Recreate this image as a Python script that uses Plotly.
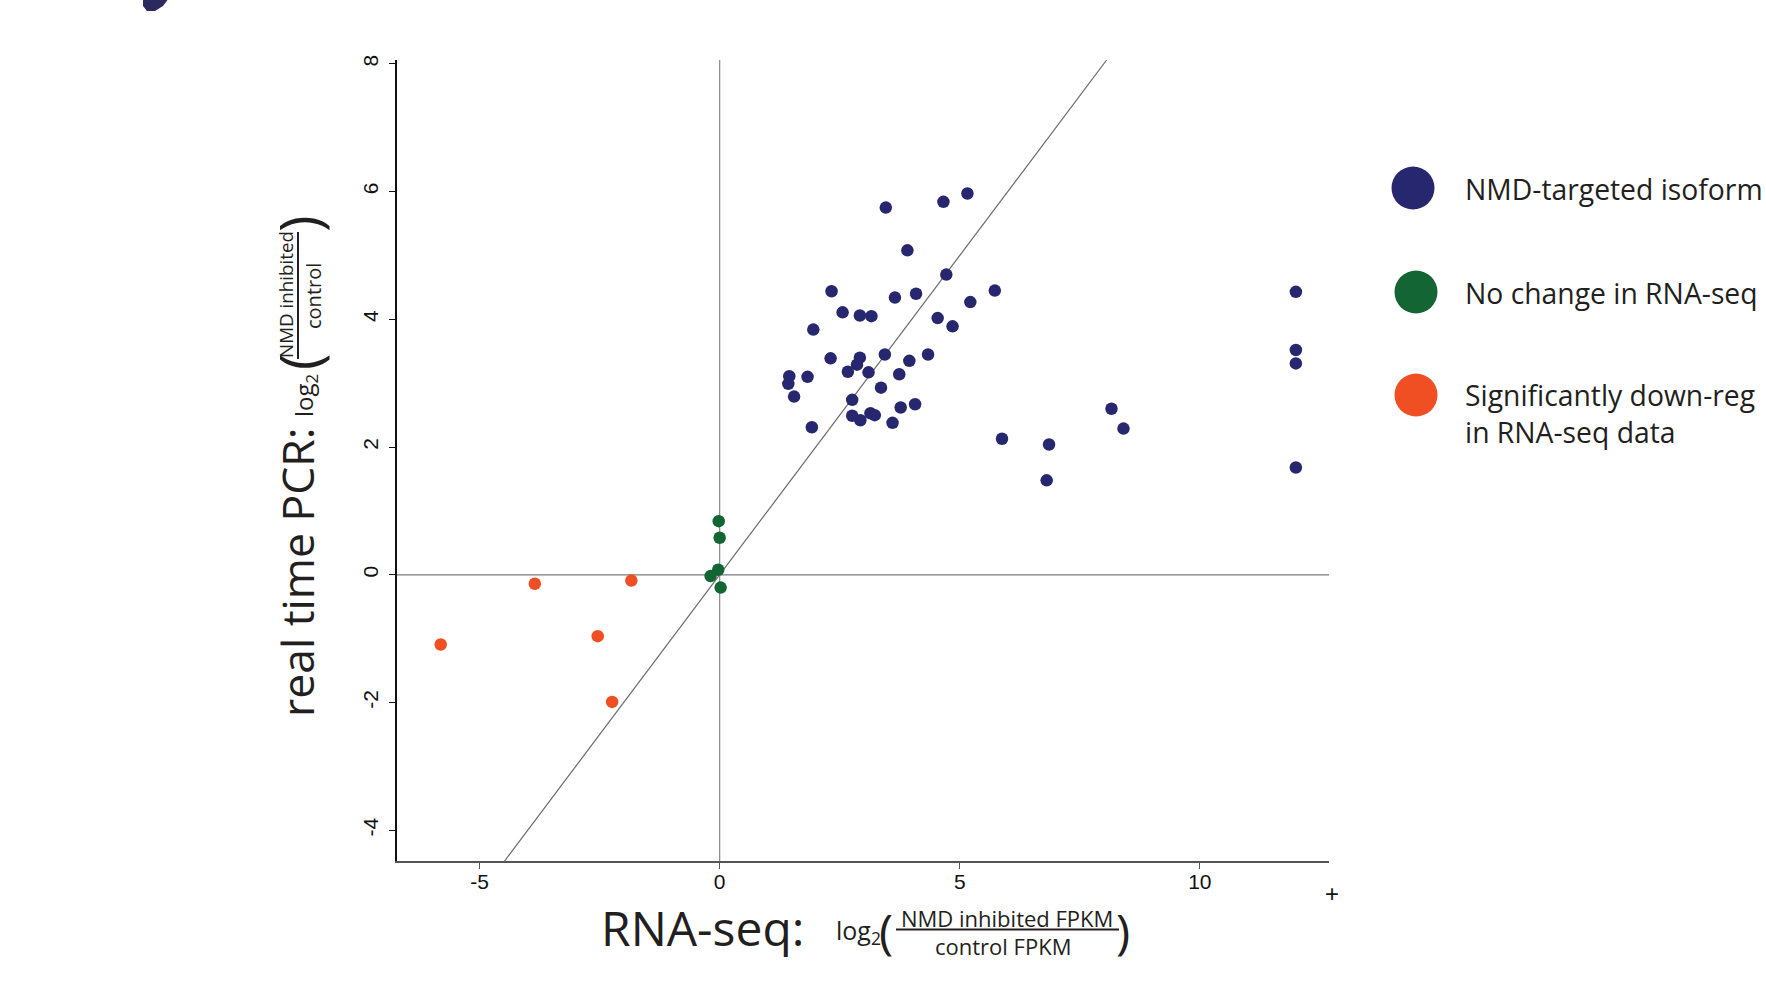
import plotly.graph_objects as go

# ---------------- data ----------------
nmd_x = [3.46, 4.66, 5.16, 3.91, 4.72, 2.33, 3.65, 4.09, 5.73, 5.22, 2.56, 2.92,
         3.16, 4.54, 4.85, 1.95, 2.31, 2.92, 3.44, 4.34, 3.95, 2.86, 2.67, 3.10,
         3.74, 1.45, 1.43, 1.83, 3.36, 1.55, 2.76, 3.77, 4.07, 2.76, 2.93, 3.14,
         3.23, 3.60, 1.92, 5.88, 6.86, 6.81, 8.16, 8.41, 12.0, 12.0, 12.0, 12.0]
nmd_y = [5.75, 5.84, 5.97, 5.08, 4.70, 4.44, 4.34, 4.40, 4.45, 4.27, 4.11, 4.06,
         4.05, 4.02, 3.89, 3.84, 3.39, 3.40, 3.45, 3.45, 3.35, 3.29, 3.18, 3.17,
         3.14, 3.11, 2.99, 3.10, 2.93, 2.79, 2.74, 2.62, 2.67, 2.49, 2.42, 2.53,
         2.50, 2.38, 2.31, 2.13, 2.04, 1.48, 2.60, 2.29, 4.43, 3.52, 3.31, 1.68]

nochange_x = [-0.02, 0.00, -0.03, -0.19, 0.02]
nochange_y = [0.84, 0.58, 0.08, -0.02, -0.20]

down_x = [-5.81, -3.85, -1.84, -2.54, -2.24]
down_y = [-1.09, -0.14, -0.09, -0.96, -1.99]

x_ticks = [-5, 0, 5, 10]
y_ticks = [-4, -2, 0, 2, 4, 6, 8]
x_range = [-6.72, 12.69]
y_range = [-4.48, 8.06]

legend_labels = ["NMD-targeted isoform", "No change in RNA-seq",
                 "Significantly down-reg<br>in RNA-seq data"]

NAVY = "#27276f"
GREEN = "#136534"
ORANGE = "#f04e23"
TXT = "#231f20"

# ---------------- layout geometry ----------------
W, H = 1766, 1001
L, R, T, B = 397, 1329, 60, 861


def P(px, py):
    return (px - L) / (R - L), (B - py) / (B - T)


fig = go.Figure()
for xs, ys, col, name in [(nmd_x, nmd_y, NAVY, legend_labels[0]),
                          (nochange_x, nochange_y, GREEN, legend_labels[1]),
                          (down_x, down_y, ORANGE, legend_labels[2])]:
    fig.add_trace(go.Scatter(x=xs, y=ys, mode="markers", name=name,
                             marker=dict(color=col, size=12.5, line=dict(width=0)),
                             showlegend=False, hoverinfo="x+y"))

shapes = [
    dict(type="line", xref="x", yref="paper", x0=0, x1=0, y0=0, y1=1,
         line=dict(color="#8a8a8a", width=1.2), layer="below"),
    dict(type="line", xref="paper", yref="y", x0=0, x1=1, y0=0, y1=0,
         line=dict(color="#7a7a7a", width=1.2), layer="below"),
    dict(type="line", xref="x", yref="y", x0=y_range[0], y0=y_range[0],
         x1=y_range[1], y1=y_range[1],
         line=dict(color="#6a6a6a", width=1.2), layer="below"),
]

# fraction bars
xb0, yb = P(896, 929.5)
xb1, _ = P(1119, 929.5)
shapes.append(dict(type="line", xref="paper", yref="paper", x0=xb0, x1=xb1,
                   y0=yb, y1=yb, line=dict(color=TXT, width=2)))
xv, yv0 = P(298, 232)
_, yv1 = P(298, 359)
shapes.append(dict(type="line", xref="paper", yref="paper", x0=xv, x1=xv,
                   y0=yv0, y1=yv1, line=dict(color=TXT, width=2)))

# legend circles
for (cx, cy), col in zip([(1413, 188), (1416, 292), (1416, 395)], [NAVY, GREEN, ORANGE]):
    px_, py_ = P(cx, cy)
    shapes.append(dict(type="circle", xref="paper", yref="paper",
                       xsizemode="pixel", ysizemode="pixel",
                       xanchor=px_, yanchor=py_, x0=-21.5, x1=21.5, y0=-21.5, y1=21.5,
                       fillcolor=col, line=dict(width=0)))

# cropped dark blob at the top-left corner
pts = [P(143, -2), P(143, 6), P(147, 11), P(155, 11), P(163, 6), P(169, -2)]
path = "M " + " L ".join(f"{a:.5f},{b:.5f}" for a, b in pts) + " Z"
shapes.append(dict(type="path", xref="paper", yref="paper", path=path,
                   fillcolor="#2a2a5e", line=dict(width=0)))

ann = []


def A(text, px, py, size, angle=0, xanchor="center", yanchor="middle",
      family="Open Sans", color=TXT, align="center"):
    x, y = P(px, py)
    ann.append(dict(text=text, x=x, y=y, xref="paper", yref="paper",
                    showarrow=False, textangle=angle, xanchor=xanchor,
                    yanchor=yanchor, align=align,
                    font=dict(family=family, size=size, color=color)))


# x title
A("RNA-seq:", 702, 927, 48)
A("log<sub>2</sub>", 858, 931, 25)
A("(", 886, 930, 48)
A("NMD inhibited FPKM", 1007, 918, 22)
A("control FPKM", 1003, 946, 22)
A(")", 1123, 930, 48)

# y title (rotated)
A("real time PCR:", 296, 572, 44.5, angle=-90)
A("log<sub>2</sub>", 305, 396, 24, angle=-90)
A("(", 299, 362, 56, angle=-90)
A("NMD inhibited", 286, 295, 18.8, angle=-90)
A("control", 313, 296, 20, angle=-90)
A(")", 299, 224, 56, angle=-90)

# stray "+"
A("+", 1332, 893, 24, family="Liberation Sans", color="#111")

# legend labels
A(legend_labels[0], 1463, 189, 28.3, xanchor="left", align="left")
A(legend_labels[1], 1463, 293, 28.3, xanchor="left", align="left")
A(legend_labels[2], 1463, 413, 28.3, xanchor="left", align="left")

tickfont = dict(family="Liberation Sans", size=21, color="#111")
fig.update_layout(
    width=W, height=H,
    margin=dict(l=L, r=W - R, t=T, b=H - B, pad=0),
    paper_bgcolor="white", plot_bgcolor="white",
    xaxis=dict(range=x_range, tickvals=x_ticks, ticktext=[str(v) for v in x_ticks],
               showgrid=False, zeroline=False, showline=True, linecolor="#555",
               linewidth=1.5, ticks="outside", ticklen=6, tickcolor="#555",
               tickwidth=1.2, tickfont=tickfont, ticklabelstandoff=-5),
    yaxis=dict(range=y_range, tickvals=y_ticks, ticktext=[str(v) for v in y_ticks],
               showgrid=False, zeroline=False, showline=True, linecolor="#111",
               linewidth=2, ticks="outside", ticklen=6, tickcolor="#111",
               tickwidth=1.2, tickangle=-90, tickfont=tickfont, ticklabelstandoff=3),
    shapes=shapes, annotations=ann, showlegend=False,
)

fig.write_html("out.html", config={"displayModeBar": False},
               post_script="document.body.style.margin='0';")
